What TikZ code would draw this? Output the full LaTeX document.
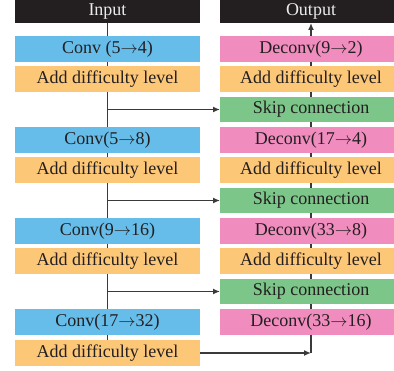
\documentclass[tikz,border=0pt]{standalone}
\usepackage{fontspec}
\setmainfont{Liberation Serif}
\usetikzlibrary{arrows.meta,backgrounds}
\definecolor{cblue}{HTML}{66BDEA}
\definecolor{corange}{HTML}{FDC778}
\definecolor{cpink}{HTML}{F08DBE}
\definecolor{cgreen}{HTML}{7DC68A}
\definecolor{cblack}{HTML}{231F20}
\definecolor{cline}{HTML}{3A3A3A}
\newcommand{\ra}{$\mathord{\rightarrow}$}
\tikzset{
  box/.style={inner sep=0pt, outer sep=0pt, minimum height=26pt, text=cblack,
    font=\fontsize{18}{20}\selectfont},
  lbox/.style={box, minimum width=185pt},
  rbox/.style={box, minimum width=182pt},
  head/.style={fill=cblack, text=white!92!black, minimum height=23pt},
  conv/.style={fill=cblue},
  deconv/.style={fill=cpink},
  addl/.style={fill=corange},
  skipc/.style={fill=cgreen, minimum height=25pt},
  conn/.style={draw=cline, line width=1.7pt},
  arr/.style={conn, -{Latex[length=7pt,width=6pt]}},
}
\begin{document}
\begin{tikzpicture}[x=1pt,y=-1pt]
\clip (0,0) rectangle (394,371);
% left column
\node[lbox,head] (in) at (107.5,11.5) {Input};
\node[lbox,conv] (c1) at (107.5,49) {Conv (5\ra4)};
\node[lbox,addl] (a1) at (107.5,79) {Add difficulty level};
\node[lbox,conv] (c2) at (107.5,140) {Conv(5\ra8)};
\node[lbox,addl] (a2) at (107.5,170) {Add difficulty level};
\node[lbox,conv] (c3) at (107.5,231) {Conv(9\ra16)};
\node[lbox,addl] (a3) at (107.5,261) {Add difficulty level};
\node[lbox,conv] (c4) at (107.5,322) {Conv(17\ra32)};
\node[lbox,addl] (a4) at (107.5,353) {Add difficulty level};
% right column
\node[rbox,head] (out) at (311,11.5) {Output};
\node[rbox,deconv] (d1) at (311,49) {Deconv(9\ra2)};
\node[rbox,addl] (r1) at (311,79) {Add difficulty level};
\node[rbox,skipc] (s1) at (311,109.5) {Skip connection};
\node[rbox,deconv] (d2) at (311,140) {Deconv(17\ra4)};
\node[rbox,addl] (r2) at (311,170) {Add difficulty level};
\node[rbox,skipc] (s2) at (311,200.5) {Skip connection};
\node[rbox,deconv] (d3) at (311,231) {Deconv(33\ra8)};
\node[rbox,addl] (r3) at (311,261) {Add difficulty level};
\node[rbox,skipc] (s3) at (311,291.5) {Skip connection};
\node[rbox,deconv] (d4) at (311,322) {Deconv(33\ra16)};
\coordinate (corner) at (a4.east -| d4.south);
\begin{scope}[on background layer]
  \draw[conn] (in.south) -- (a4.north);
  \draw[conn] (d4.south) -- (d1.north);
\end{scope}
\draw[arr] (d1.north) -- (out.south);
\draw[arr] (s1.west -| in.south) -- (s1.west);
\draw[arr] (s2.west -| in.south) -- (s2.west);
\draw[arr] (s3.west -| in.south) -- (s3.west);
\draw[conn] (corner) -- (d4.south);
\draw[arr] (a4.east) -- (corner);
\end{tikzpicture}
\end{document}
